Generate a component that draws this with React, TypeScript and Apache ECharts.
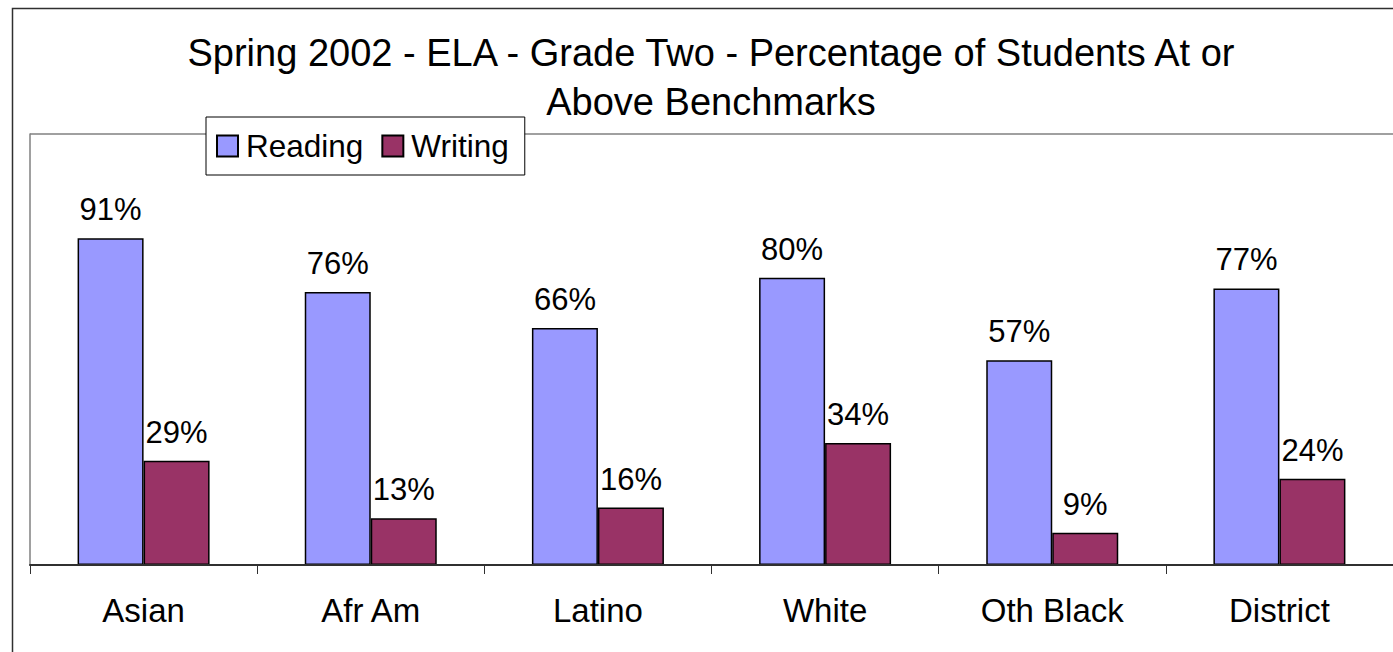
import React, { useEffect, useRef } from "react";
import * as echarts from "echarts";

const categories = ["Asian", "Afr Am", "Latino", "White", "Oth Black", "District"];
const readingValues = [91, 76, 66, 80, 57, 77];
const writingValues = [29, 13, 16, 34, 9, 24];
const titleLines = ["Spring 2002 - ELA - Grade Two - Percentage of Students At or", "Above Benchmarks"];
const seriesNames = ["Reading", "Writing"];
const yMin = 0;
const yMax = 120;

const FONT = "'Liberation Sans', Arial, Helvetica, sans-serif";

export default function App() {
  const ref = useRef<HTMLDivElement>(null);
  useEffect(() => {
    if (!ref.current) return;
    const chart = echarts.init(ref.current, undefined, { renderer: "svg" });
    const barStyle = (color: string) => ({
      color,
      borderColor: "#000000",
      borderWidth: 1.5,
    });
    const label = {
      show: true,
      position: "top" as const,
      distance: 13,
      formatter: "{c}%",
      color: "#000000",
      fontSize: 31,
      fontFamily: FONT,
    };
    chart.setOption({
      animation: false,
      backgroundColor: "#ffffff",
      textStyle: { fontFamily: FONT },
      graphic: [
        {
          type: "rect",
          left: 10,
          top: 6,
          z: 0,
          silent: true,
          shape: { width: 1420, height: 700 },
          style: { fill: "none", stroke: "#303030", lineWidth: 1.5 },
        },
        {
          type: "text",
          x: 711,
          y: 28,
          z: 10,
          style: {
            text: titleLines.join("\n"),
            textAlign: "center",
            textVerticalAlign: "top",
            fontSize: 38,
            fontFamily: FONT,
            lineHeight: 49,
            fill: "#000000",
          },
        },
      ],
      legend: {
        left: 206,
        top: 117,
        z: 10,
        orient: "horizontal",
        itemWidth: 21,
        itemHeight: 21,
        itemGap: 18,
        icon: "rect",
        padding: [13, 16, 13, 10],
        backgroundColor: "#ffffff",
        borderColor: "#000000",
        borderWidth: 1,
        borderRadius: 0,
        textStyle: { fontSize: 31.5, color: "#000000", fontFamily: FONT, padding: [0, 0, 0, 3] },
        data: seriesNames,
      },
      grid: {
        left: 30,
        right: 0,
        top: 134,
        bottom: 87,
        show: false,
        containLabel: false,
      },
      xAxis: {
        type: "category",
        data: categories,
        z: 3,
        axisLine: { show: true, lineStyle: { color: "#303030", width: 2 } },
        axisTick: { show: true, length: 9, lineStyle: { color: "#303030", width: 1 } },
        axisLabel: { fontSize: 33, color: "#000000", margin: 29, fontFamily: FONT },
      },
      yAxis: {
        type: "value",
        min: yMin,
        max: yMax,
        interval: yMax,
        axisLine: { show: true, lineStyle: { color: "#808080", width: 1.5 } },
        axisTick: { show: false },
        axisLabel: { show: false },
        splitLine: { show: true, lineStyle: { color: "#808080", width: 1.5 } },
      },
      series: [
        {
          name: seriesNames[0],
          type: "bar",
          data: readingValues,
          barWidth: 66,
          barGap: "0%",
          itemStyle: barStyle("#9999FF"),
          label,
        },
        {
          name: seriesNames[1],
          type: "bar",
          data: writingValues,
          barWidth: 66,
          barGap: "0%",
          itemStyle: barStyle("#993366"),
          label,
        },
      ],
    });
    return () => chart.dispose();
  }, []);
  return (
    <div
      ref={ref}
      style={{ position: "fixed", left: 0, top: 0, width: 1393, height: 652 }}
    />
  );
}
